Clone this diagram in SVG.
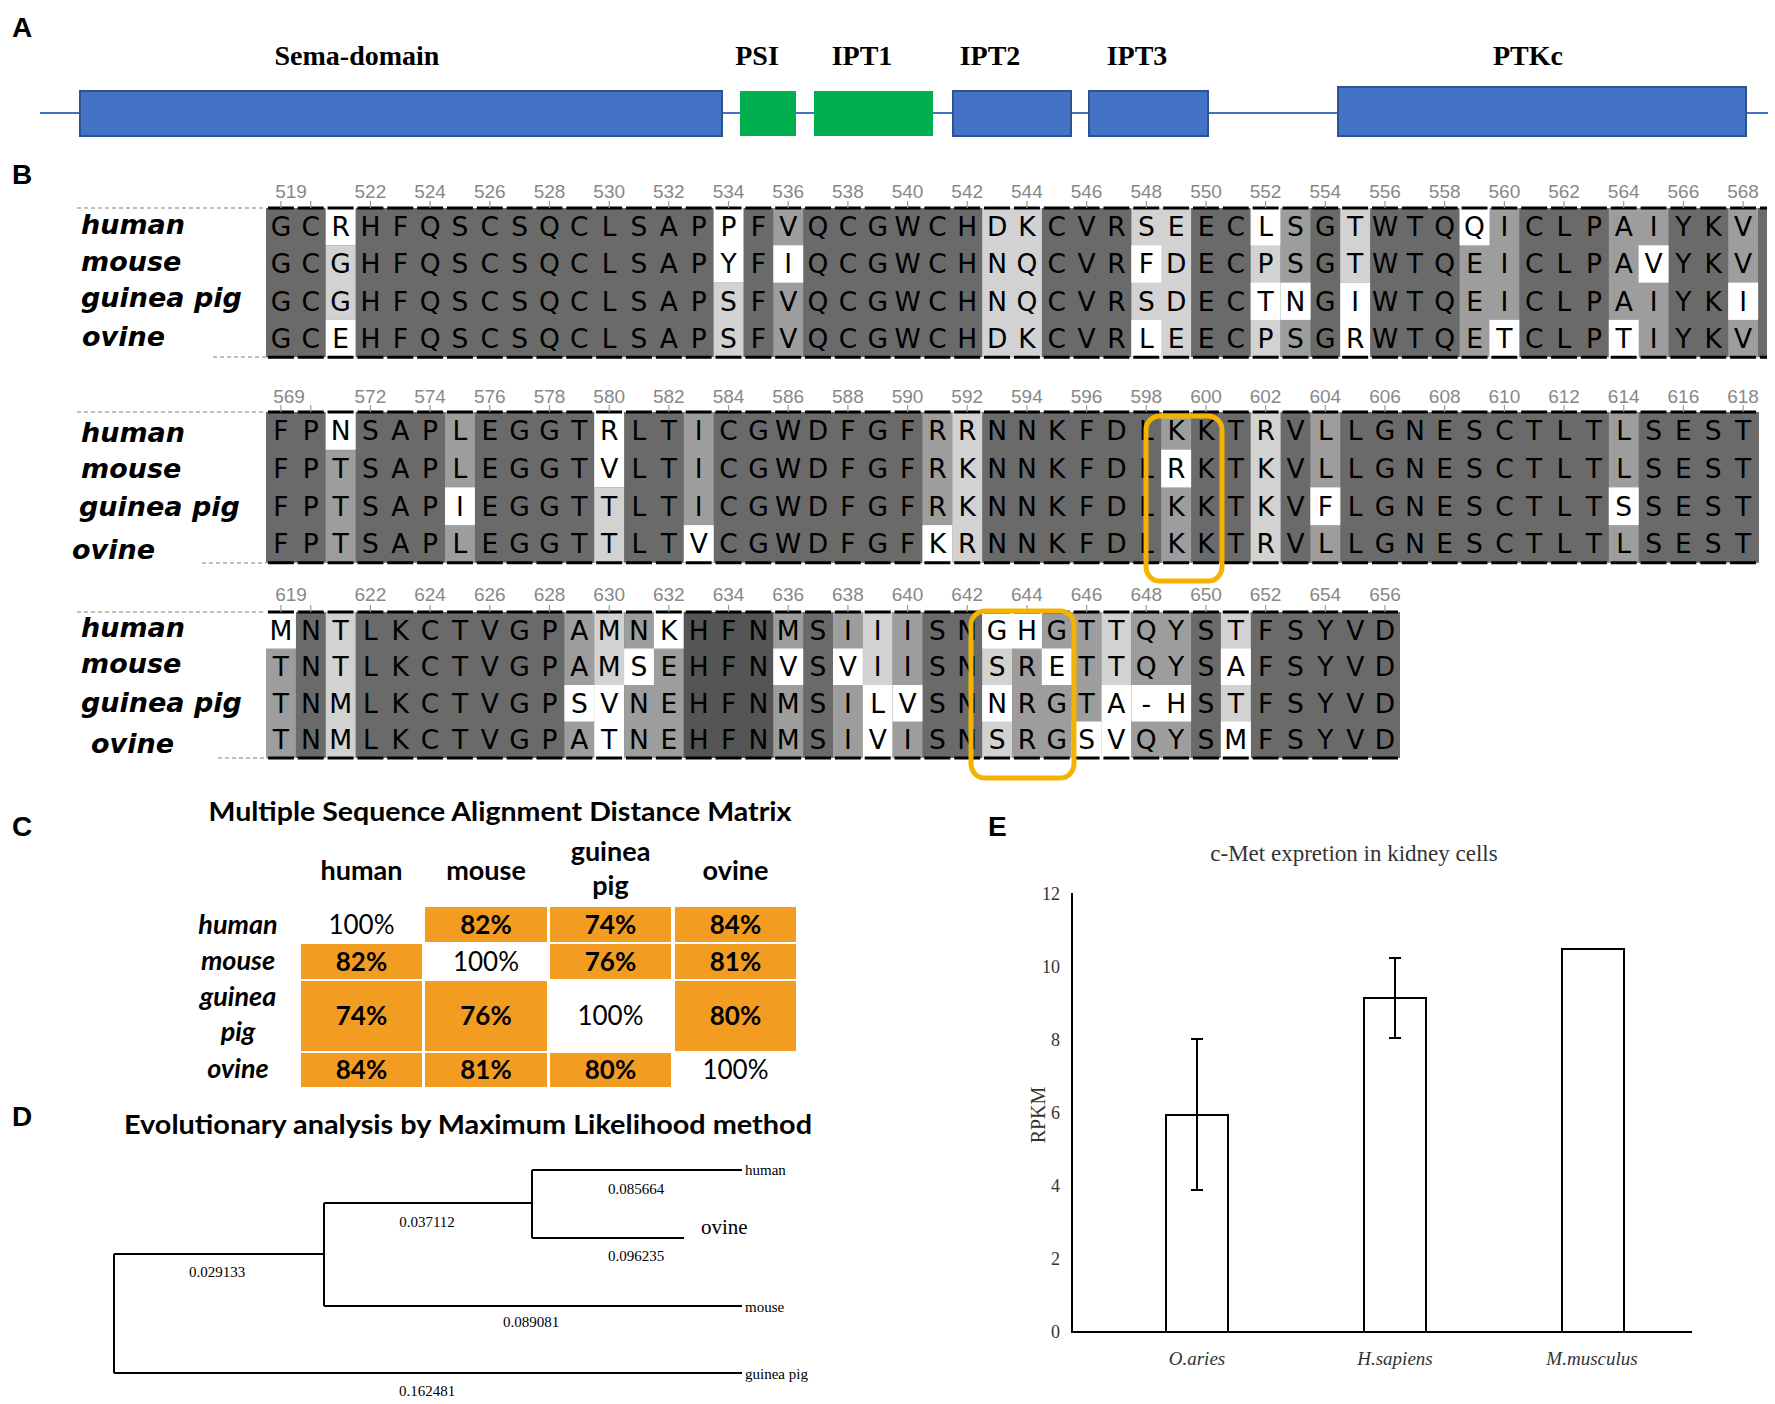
<svg xmlns="http://www.w3.org/2000/svg" width="1775" height="1404" viewBox="0 0 1775 1404">
<style>
.pl{font-family:"Liberation Sans",Arial,sans-serif;font-size:28px;font-weight:bold;fill:#000}
.dom{font-family:"Liberation Serif","Times New Roman",serif;font-size:28px;font-weight:bold;text-anchor:middle;fill:#000}
.blue{fill:#4472C4;stroke:#2F528F;stroke-width:2}
.green{fill:#00B050}
.dk{fill:#6a6a6a}.md{fill:#9d9d9d}.lt{fill:#d2d2d2}.wh{fill:#fff}
.aa{font-family:"DejaVu Sans",Verdana,sans-serif;font-size:26.5px;text-anchor:middle;fill:#000}
.num{font-family:"Liberation Sans",Arial,sans-serif;font-size:19px;fill:#888;text-anchor:middle}
.sp{font-family:"DejaVu Sans",Verdana,sans-serif;font-size:27px;font-weight:bold;font-style:italic;fill:#000}
.gd{stroke:#aaa;stroke-width:1.5;stroke-dasharray:4 3;fill:none}
.bd{stroke:#000;stroke-width:3;stroke-dasharray:26 3.84;fill:none}
.tk{stroke:#999;stroke-width:1.2;fill:none}
.box{fill:none;stroke:#F5B301;stroke-width:5}
.ttl{font-family:Lato,"Liberation Sans",sans-serif;font-size:26px;font-weight:bold;text-anchor:middle;fill:#000}
.hd{font-family:Lato,"Liberation Sans",sans-serif;font-size:27px;font-weight:bold;text-anchor:middle;fill:#000}
.rl{font-family:Lato,"Liberation Sans",sans-serif;font-size:27px;font-weight:bold;font-style:italic;text-anchor:middle;fill:#000}
.cv{font-family:Lato,"Liberation Sans",sans-serif;font-size:26px;font-weight:bold;text-anchor:middle;fill:#000}
.cw{font-family:Lato,"Liberation Sans",sans-serif;font-size:26px;text-anchor:middle;fill:#000}
.or{fill:#F39C22}
.tr{stroke:#000;stroke-width:2;fill:none}
.tl{font-family:"Liberation Serif","Times New Roman",serif;font-size:15px;fill:#000}
.tn{font-family:"Liberation Serif","Times New Roman",serif;font-size:15px;fill:#000;text-anchor:middle}
.et{font-family:"Liberation Serif","Times New Roman",serif;fill:#333}
.ax{stroke:#000;stroke-width:2;fill:none}
.bar{fill:#fff;stroke:#000;stroke-width:2}
</style>

<g id="panelA">
<text class="pl" x="12" y="37">A</text>
<line x1="40" y1="113" x2="1768" y2="113" stroke="#4472C4" stroke-width="2"/>
<g id="sema"><rect class="blue" x="80" y="91" width="642" height="45"/><text class="dom" x="357" y="65">Sema-domain</text></g>
<g id="psi"><rect class="green" x="740" y="91" width="56" height="45"/><text class="dom" x="757" y="65">PSI</text></g>
<g id="ipt1"><rect class="green" x="814" y="91" width="119" height="45"/><text class="dom" x="862" y="65">IPT1</text></g>
<g id="ipt2"><rect class="blue" x="953" y="91" width="118" height="45"/><text class="dom" x="990" y="65">IPT2</text></g>
<g id="ipt3"><rect class="blue" x="1089" y="91" width="119" height="45"/><text class="dom" x="1137" y="65">IPT3</text></g>
<g id="ptkc"><rect class="blue" x="1338" y="87" width="408" height="49"/><text class="dom" x="1528" y="65">PTKc</text></g>
</g>

<g id="panelB">
<text class="pl" x="12" y="184">B</text>

<g id="block1">
<path class="gd" d="M77 208H266M213 357H266"/>
<rect class="dk" x="266" y="208" width="1501" height="149.2"/>
<rect class="wh" x="325.7" y="208" width="29.9" height="37.3"/><rect class="lt" x="325.7" y="245.3" width="29.9" height="74.6"/><rect class="wh" x="325.7" y="319.9" width="29.9" height="37.3"/>
<rect class="wh" x="713.6" y="208" width="29.9" height="74.6"/><rect class="lt" x="713.6" y="282.6" width="29.9" height="74.6"/>
<rect class="md" x="773.3" y="208" width="29.9" height="149.2"/><rect class="wh" x="773.3" y="245.3" width="29.9" height="37.3"/>
<rect class="lt" x="982.2" y="208" width="59.7" height="149.2"/>
<rect class="lt" x="1131.4" y="208" width="59.7" height="149.2"/><rect class="wh" x="1131.4" y="245.3" width="29.9" height="37.3"/><rect class="wh" x="1131.4" y="319.9" width="29.9" height="37.3"/>
<rect class="lt" x="1250.7" y="208" width="29.9" height="149.2"/><rect class="wh" x="1250.7" y="208" width="29.9" height="37.3"/><rect class="wh" x="1250.7" y="282.6" width="29.9" height="37.3"/>
<rect class="md" x="1280.6" y="208" width="29.9" height="149.2"/><rect class="wh" x="1280.6" y="282.6" width="29.9" height="37.3"/>
<rect class="lt" x="1340.2" y="208" width="29.9" height="74.6"/><rect class="wh" x="1340.2" y="282.6" width="29.9" height="74.6"/>
<rect class="md" x="1459.6" y="208" width="59.7" height="149.2"/><rect class="wh" x="1459.6" y="208" width="29.9" height="37.3"/><rect class="wh" x="1489.4" y="319.9" width="29.9" height="37.3"/>
<rect class="md" x="1608.8" y="208" width="59.7" height="149.2"/><rect class="wh" x="1608.8" y="319.9" width="29.9" height="37.3"/><rect class="wh" x="1638.6" y="245.3" width="29.9" height="37.3"/>
<rect class="md" x="1728.2" y="208" width="29.9" height="149.2"/><rect class="wh" x="1728.2" y="282.6" width="29.9" height="37.3"/>
<path class="bd" d="M267.9 208H1767M267.9 357.2H1767"/>
<path class="tk" d="M280.9 201v7M310.8 201v7M370.4 201v7M430.1 201v7M489.8 201v7M549.5 201v7M609.2 201v7M668.8 201v7M728.5 201v7M788.2 201v7M847.9 201v7M907.6 201v7M967.2 201v7M1026.9 201v7M1086.6 201v7M1146.3 201v7M1206 201v7M1265.6 201v7M1325.3 201v7M1385 201v7M1444.7 201v7M1504.4 201v7M1564 201v7M1623.7 201v7M1683.4 201v7M1743.1 201v7"/>
<text class="num" y="198"><tspan x="291">519</tspan><tspan x="370.4">522</tspan><tspan x="430.1">524</tspan><tspan x="489.8">526</tspan><tspan x="549.5">528</tspan><tspan x="609.2">530</tspan><tspan x="668.8">532</tspan><tspan x="728.5">534</tspan><tspan x="788.2">536</tspan><tspan x="847.9">538</tspan><tspan x="907.6">540</tspan><tspan x="967.2">542</tspan><tspan x="1026.9">544</tspan><tspan x="1086.6">546</tspan><tspan x="1146.3">548</tspan><tspan x="1206">550</tspan><tspan x="1265.6">552</tspan><tspan x="1325.3">554</tspan><tspan x="1385">556</tspan><tspan x="1444.7">558</tspan><tspan x="1504.4">560</tspan><tspan x="1564">562</tspan><tspan x="1623.7">564</tspan><tspan x="1683.4">566</tspan><tspan x="1743.1">568</tspan></text>
<text class="sp" x="81" y="234">human</text>
<text class="sp" x="81" y="271">mouse</text>
<text class="sp" x="81" y="307">guinea pig</text>
<text class="sp" x="82" y="346">ovine</text>
<text class="aa" y="236" x="280.9 310.8 340.6 370.4 400.3 430.1 460 489.8 519.6 549.5 579.3 609.2 639 668.8 698.7 728.5 758.4 788.2 818 847.9 877.7 907.6 937.4 967.2 997.1 1026.9 1056.8 1086.6 1116.4 1146.3 1176.1 1206 1235.8 1265.6 1295.5 1325.3 1355.2 1385 1414.8 1444.7 1474.5 1504.4 1534.2 1564 1593.9 1623.7 1653.6 1683.4 1713.2 1743.1">GCRHFQSCSQCLSAPPFVQCGWCHDKCVRSEECLSGTWTQQICLPAIYKV</text>
<text class="aa" y="273.3" x="280.9 310.8 340.6 370.4 400.3 430.1 460 489.8 519.6 549.5 579.3 609.2 639 668.8 698.7 728.5 758.4 788.2 818 847.9 877.7 907.6 937.4 967.2 997.1 1026.9 1056.8 1086.6 1116.4 1146.3 1176.1 1206 1235.8 1265.6 1295.5 1325.3 1355.2 1385 1414.8 1444.7 1474.5 1504.4 1534.2 1564 1593.9 1623.7 1653.6 1683.4 1713.2 1743.1">GCGHFQSCSQCLSAPYFIQCGWCHNQCVRFDECPSGTWTQEICLPAVYKV</text>
<text class="aa" y="310.6" x="280.9 310.8 340.6 370.4 400.3 430.1 460 489.8 519.6 549.5 579.3 609.2 639 668.8 698.7 728.5 758.4 788.2 818 847.9 877.7 907.6 937.4 967.2 997.1 1026.9 1056.8 1086.6 1116.4 1146.3 1176.1 1206 1235.8 1265.6 1295.5 1325.3 1355.2 1385 1414.8 1444.7 1474.5 1504.4 1534.2 1564 1593.9 1623.7 1653.6 1683.4 1713.2 1743.1">GCGHFQSCSQCLSAPSFVQCGWCHNQCVRSDECTNGIWTQEICLPAIYKI</text>
<text class="aa" y="347.9" x="280.9 310.8 340.6 370.4 400.3 430.1 460 489.8 519.6 549.5 579.3 609.2 639 668.8 698.7 728.5 758.4 788.2 818 847.9 877.7 907.6 937.4 967.2 997.1 1026.9 1056.8 1086.6 1116.4 1146.3 1176.1 1206 1235.8 1265.6 1295.5 1325.3 1355.2 1385 1414.8 1444.7 1474.5 1504.4 1534.2 1564 1593.9 1623.7 1653.6 1683.4 1713.2 1743.1">GCEHFQSCSQCLSAPSFVQCGWCHDKCVRLEECPSGRWTQETCLPTIYKV</text>
</g>

<g id="block2">
<path class="gd" d="M77 412H266M202 563H266"/>
<rect class="dk" x="266" y="412" width="1493" height="150.8"/>
<rect class="md" x="325.7" y="412" width="29.9" height="150.8"/><rect class="wh" x="325.7" y="412" width="29.9" height="37.7"/>
<rect class="md" x="445" y="412" width="29.9" height="150.8"/><rect class="wh" x="445" y="487.4" width="29.9" height="37.7"/>
<rect class="wh" x="594.2" y="412" width="29.9" height="75.4"/><rect class="lt" x="594.2" y="487.4" width="29.9" height="75.4"/>
<rect class="md" x="683.8" y="412" width="29.9" height="150.8"/><rect class="wh" x="683.8" y="525.1" width="29.9" height="37.7"/>
<rect class="md" x="922.5" y="412" width="29.9" height="150.8"/><rect class="wh" x="922.5" y="525.1" width="29.9" height="37.7"/>
<rect class="lt" x="952.3" y="412" width="29.9" height="150.8"/>
<rect class="md" x="1161.2" y="412" width="29.9" height="150.8"/><rect class="wh" x="1161.2" y="449.7" width="29.9" height="37.7"/>
<rect class="lt" x="1250.7" y="412" width="29.9" height="150.8"/>
<rect class="md" x="1310.4" y="412" width="29.9" height="150.8"/><rect class="wh" x="1310.4" y="487.4" width="29.9" height="37.7"/>
<rect class="md" x="1608.8" y="412" width="29.9" height="150.8"/><rect class="wh" x="1608.8" y="487.4" width="29.9" height="37.7"/>
<path class="bd" d="M267.9 412H1759M267.9 562.8H1759"/>
<path class="tk" d="M280.9 405v7M310.8 405v7M370.4 405v7M430.1 405v7M489.8 405v7M549.5 405v7M609.2 405v7M668.8 405v7M728.5 405v7M788.2 405v7M847.9 405v7M907.6 405v7M967.2 405v7M1026.9 405v7M1086.6 405v7M1146.3 405v7M1206 405v7M1265.6 405v7M1325.3 405v7M1385 405v7M1444.7 405v7M1504.4 405v7M1564 405v7M1623.7 405v7M1683.4 405v7M1743.1 405v7"/>
<text class="num" y="403"><tspan x="289">569</tspan><tspan x="370.4">572</tspan><tspan x="430.1">574</tspan><tspan x="489.8">576</tspan><tspan x="549.5">578</tspan><tspan x="609.2">580</tspan><tspan x="668.8">582</tspan><tspan x="728.5">584</tspan><tspan x="788.2">586</tspan><tspan x="847.9">588</tspan><tspan x="907.6">590</tspan><tspan x="967.2">592</tspan><tspan x="1026.9">594</tspan><tspan x="1086.6">596</tspan><tspan x="1146.3">598</tspan><tspan x="1206">600</tspan><tspan x="1265.6">602</tspan><tspan x="1325.3">604</tspan><tspan x="1385">606</tspan><tspan x="1444.7">608</tspan><tspan x="1504.4">610</tspan><tspan x="1564">612</tspan><tspan x="1623.7">614</tspan><tspan x="1683.4">616</tspan><tspan x="1743.1">618</tspan></text>
<text class="sp" x="81" y="442">human</text>
<text class="sp" x="81" y="478">mouse</text>
<text class="sp" x="79" y="516">guinea pig</text>
<text class="sp" x="72" y="559">ovine</text>
<text class="aa" y="440.3" x="280.9 310.8 340.6 370.4 400.3 430.1 460 489.8 519.6 549.5 579.3 609.2 639 668.8 698.7 728.5 758.4 788.2 818 847.9 877.7 907.6 937.4 967.2 997.1 1026.9 1056.8 1086.6 1116.4 1146.3 1176.1 1206 1235.8 1265.6 1295.5 1325.3 1355.2 1385 1414.8 1444.7 1474.5 1504.4 1534.2 1564 1593.9 1623.7 1653.6 1683.4 1713.2 1743.1">FPNSAPLEGGTRLTICGWDFGFRRNNKFDLKKTRVLLGNESCTLTLSEST</text>
<text class="aa" y="478" x="280.9 310.8 340.6 370.4 400.3 430.1 460 489.8 519.6 549.5 579.3 609.2 639 668.8 698.7 728.5 758.4 788.2 818 847.9 877.7 907.6 937.4 967.2 997.1 1026.9 1056.8 1086.6 1116.4 1146.3 1176.1 1206 1235.8 1265.6 1295.5 1325.3 1355.2 1385 1414.8 1444.7 1474.5 1504.4 1534.2 1564 1593.9 1623.7 1653.6 1683.4 1713.2 1743.1">FPTSAPLEGGTVLTICGWDFGFRKNNKFDLRKTKVLLGNESCTLTLSEST</text>
<text class="aa" y="515.7" x="280.9 310.8 340.6 370.4 400.3 430.1 460 489.8 519.6 549.5 579.3 609.2 639 668.8 698.7 728.5 758.4 788.2 818 847.9 877.7 907.6 937.4 967.2 997.1 1026.9 1056.8 1086.6 1116.4 1146.3 1176.1 1206 1235.8 1265.6 1295.5 1325.3 1355.2 1385 1414.8 1444.7 1474.5 1504.4 1534.2 1564 1593.9 1623.7 1653.6 1683.4 1713.2 1743.1">FPTSAPIEGGTTLTICGWDFGFRKNNKFDLKKTKVFLGNESCTLTSSEST</text>
<text class="aa" y="553.4" x="280.9 310.8 340.6 370.4 400.3 430.1 460 489.8 519.6 549.5 579.3 609.2 639 668.8 698.7 728.5 758.4 788.2 818 847.9 877.7 907.6 937.4 967.2 997.1 1026.9 1056.8 1086.6 1116.4 1146.3 1176.1 1206 1235.8 1265.6 1295.5 1325.3 1355.2 1385 1414.8 1444.7 1474.5 1504.4 1534.2 1564 1593.9 1623.7 1653.6 1683.4 1713.2 1743.1">FPTSAPLEGGTTLTVCGWDFGFKRNNKFDLKKTRVLLGNESCTLTLSEST</text>
<rect class="box" x="1146" y="416" width="76" height="165" rx="14"/>
</g>

<g id="block3">
<path class="gd" d="M77 612H266M218 758H266"/>
<rect class="dk" x="266" y="612" width="1134" height="146"/>
<rect class="md" x="266" y="612" width="29.9" height="146"/><rect class="wh" x="266" y="612" width="29.9" height="36.5"/>
<rect class="lt" x="325.7" y="612" width="29.9" height="146"/>
<rect class="md" x="564.4" y="612" width="29.9" height="146"/><rect class="wh" x="564.4" y="685" width="29.9" height="36.5"/>
<rect class="lt" x="594.2" y="612" width="29.9" height="73"/><rect class="wh" x="594.2" y="685" width="29.9" height="73"/>
<rect class="md" x="624.1" y="612" width="29.9" height="146"/><rect class="wh" x="624.1" y="648.5" width="29.9" height="36.5"/>
<rect class="md" x="653.9" y="612" width="29.9" height="146"/><rect class="wh" x="653.9" y="612" width="29.9" height="36.5"/>
<rect fill="#555" x="683.8" y="612" width="89.5" height="146"/>
<rect class="md" x="773.3" y="612" width="29.9" height="146"/><rect class="wh" x="773.3" y="648.5" width="29.9" height="36.5"/>
<rect class="md" x="833" y="612" width="29.9" height="146"/><rect class="wh" x="833" y="648.5" width="29.9" height="36.5"/>
<rect class="lt" x="862.8" y="612" width="29.9" height="73"/><rect class="wh" x="862.8" y="685" width="29.9" height="73"/>
<rect class="md" x="892.6" y="612" width="29.9" height="146"/><rect class="wh" x="892.6" y="685" width="29.9" height="36.5"/>
<rect class="lt" x="982.2" y="612" width="29.9" height="146"/><rect class="wh" x="982.2" y="612" width="29.9" height="36.5"/><rect class="wh" x="982.2" y="685" width="29.9" height="36.5"/>
<rect class="md" x="1012" y="612" width="89.5" height="146"/><rect class="wh" x="1012" y="612" width="29.9" height="36.5"/><rect class="wh" x="1041.8" y="648.5" width="29.9" height="36.5"/><rect class="wh" x="1071.7" y="721.5" width="29.9" height="36.5"/>
<rect class="lt" x="1101.5" y="612" width="29.9" height="73"/><rect class="wh" x="1101.5" y="685" width="29.9" height="73"/>
<rect class="md" x="1131.4" y="612" width="59.7" height="146"/><rect class="wh" x="1131.4" y="685" width="59.7" height="36.5"/>
<rect class="lt" x="1220.9" y="612" width="29.9" height="146"/><rect class="wh" x="1220.9" y="648.5" width="29.9" height="36.5"/><rect class="wh" x="1220.9" y="721.5" width="29.9" height="36.5"/>
<path class="bd" d="M267.9 612H1400M267.9 758H1400"/>
<path class="tk" d="M280.9 605v7M310.8 605v7M370.4 605v7M430.1 605v7M489.8 605v7M549.5 605v7M609.2 605v7M668.8 605v7M728.5 605v7M788.2 605v7M847.9 605v7M907.6 605v7M967.2 605v7M1026.9 605v7M1086.6 605v7M1146.3 605v7M1206 605v7M1265.6 605v7M1325.3 605v7M1385 605v7"/>
<text class="num" y="601"><tspan x="291">619</tspan><tspan x="370.4">622</tspan><tspan x="430.1">624</tspan><tspan x="489.8">626</tspan><tspan x="549.5">628</tspan><tspan x="609.2">630</tspan><tspan x="668.8">632</tspan><tspan x="728.5">634</tspan><tspan x="788.2">636</tspan><tspan x="847.9">638</tspan><tspan x="907.6">640</tspan><tspan x="967.2">642</tspan><tspan x="1026.9">644</tspan><tspan x="1086.6">646</tspan><tspan x="1146.3">648</tspan><tspan x="1206">650</tspan><tspan x="1265.6">652</tspan><tspan x="1325.3">654</tspan><tspan x="1385">656</tspan></text>
<text class="sp" x="81" y="637">human</text>
<text class="sp" x="81" y="673">mouse</text>
<text class="sp" x="81" y="712">guinea pig</text>
<text class="sp" x="91" y="753">ovine</text>
<text class="aa" y="639.7" x="280.9 310.8 340.6 370.4 400.3 430.1 460 489.8 519.6 549.5 579.3 609.2 639 668.8 698.7 728.5 758.4 788.2 818 847.9 877.7 907.6 937.4 967.2 997.1 1026.9 1056.8 1086.6 1116.4 1146.3 1176.1 1206 1235.8 1265.6 1295.5 1325.3 1355.2 1385">MNTLKCTVGPAMNKHFNMSIIISNGHGTTQYSTFSYVD</text>
<text class="aa" y="676.2" x="280.9 310.8 340.6 370.4 400.3 430.1 460 489.8 519.6 549.5 579.3 609.2 639 668.8 698.7 728.5 758.4 788.2 818 847.9 877.7 907.6 937.4 967.2 997.1 1026.9 1056.8 1086.6 1116.4 1146.3 1176.1 1206 1235.8 1265.6 1295.5 1325.3 1355.2 1385">TNTLKCTVGPAMSEHFNVSVIISNSRETTQYSAFSYVD</text>
<text class="aa" y="712.7" x="280.9 310.8 340.6 370.4 400.3 430.1 460 489.8 519.6 549.5 579.3 609.2 639 668.8 698.7 728.5 758.4 788.2 818 847.9 877.7 907.6 937.4 967.2 997.1 1026.9 1056.8 1086.6 1116.4 1146.3 1176.1 1206 1235.8 1265.6 1295.5 1325.3 1355.2 1385">TNMLKCTVGPSVNEHFNMSILVSNNRGTA-HSTFSYVD</text>
<text class="aa" y="749.2" x="280.9 310.8 340.6 370.4 400.3 430.1 460 489.8 519.6 549.5 579.3 609.2 639 668.8 698.7 728.5 758.4 788.2 818 847.9 877.7 907.6 937.4 967.2 997.1 1026.9 1056.8 1086.6 1116.4 1146.3 1176.1 1206 1235.8 1265.6 1295.5 1325.3 1355.2 1385">TNMLKCTVGPATNEHFNMSIVISNSRGSVQYSMFSYVD</text>
<rect class="box" x="971" y="611" width="103" height="167" rx="14"/>
</g>
</g>

<g id="panelC">
<text class="pl" x="12" y="836">C</text>
<text class="ttl" x="500" y="821" textLength="583" lengthAdjust="spacingAndGlyphs">Multiple Sequence Alignment Distance Matrix</text>
<text class="hd" x="361.5" y="880">human</text>
<text class="hd" x="486" y="880">mouse</text>
<text class="hd" x="610.5" y="861">guinea</text>
<text class="hd" x="610.5" y="895">pig</text>
<text class="hd" x="735.5" y="880">ovine</text>
<text class="rl" x="238" y="934">human</text>
<text class="rl" x="238" y="970">mouse</text>
<text class="rl" x="238" y="1006">guinea</text>
<text class="rl" x="238" y="1041">pig</text>
<text class="rl" x="238" y="1078">ovine</text>
<g id="cells">
<rect class="or" x="425" y="907" width="122" height="35"/><rect class="or" x="550" y="907" width="121" height="35"/><rect class="or" x="675" y="907" width="121" height="35"/>
<rect class="or" x="301" y="944" width="121" height="35"/><rect class="or" x="550" y="944" width="121" height="35"/><rect class="or" x="675" y="944" width="121" height="35"/>
<rect class="or" x="301" y="981" width="121" height="70"/><rect class="or" x="425" y="981" width="122" height="70"/><rect class="or" x="675" y="981" width="121" height="70"/>
<rect class="or" x="301" y="1053" width="121" height="34"/><rect class="or" x="425" y="1053" width="122" height="34"/><rect class="or" x="550" y="1053" width="121" height="34"/>
</g>
<text class="cw" x="361.5" y="934">100%</text><text class="cv" x="486" y="934">82%</text><text class="cv" x="610.5" y="934">74%</text><text class="cv" x="735.5" y="934">84%</text>
<text class="cv" x="361.5" y="971">82%</text><text class="cw" x="486" y="971">100%</text><text class="cv" x="610.5" y="971">76%</text><text class="cv" x="735.5" y="971">81%</text>
<text class="cv" x="361.5" y="1025">74%</text><text class="cv" x="486" y="1025">76%</text><text class="cw" x="610.5" y="1025">100%</text><text class="cv" x="735.5" y="1025">80%</text>
<text class="cv" x="361.5" y="1079">84%</text><text class="cv" x="486" y="1079">81%</text><text class="cv" x="610.5" y="1079">80%</text><text class="cw" x="735.5" y="1079">100%</text>
</g>

<g id="panelD">
<text class="pl" x="12" y="1126">D</text>
<text class="ttl" x="468" y="1134" textLength="688" lengthAdjust="spacingAndGlyphs">Evolutionary analysis by Maximum Likelihood method</text>
<path class="tr" d="M114 1254V1373M114 1254H324M324 1203V1306M324 1203H532M532 1170V1238M532 1170H742M532 1238H684M324 1306H742M114 1373H742"/>
<text class="tl" x="745" y="1175">human</text>
<text class="tl" x="701" y="1234" style="font-size:21px">ovine</text>
<text class="tl" x="745" y="1312">mouse</text>
<text class="tl" x="745" y="1379">guinea pig</text>
<text class="tn" x="636" y="1194">0.085664</text>
<text class="tn" x="636" y="1261">0.096235</text>
<text class="tn" x="427" y="1227">0.037112</text>
<text class="tn" x="217" y="1277">0.029133</text>
<text class="tn" x="531" y="1327">0.089081</text>
<text class="tn" x="427" y="1396">0.162481</text>
</g>

<g id="panelE">
<text class="pl" x="988" y="836">E</text>
<text class="et" x="1354" y="861" text-anchor="middle" font-size="23">c-Met expretion in kidney cells</text>
<path class="ax" d="M1072 893V1332H1692"/>
<g class="et" font-size="18" text-anchor="end">
<text x="1060" y="1338">0</text><text x="1060" y="1265">2</text><text x="1060" y="1192">4</text><text x="1060" y="1119">6</text><text x="1060" y="1046">8</text><text x="1060" y="973">10</text><text x="1060" y="900">12</text>
</g>
<text class="et" font-size="20" transform="translate(1045 1115) rotate(-90)" text-anchor="middle">RPKM</text>
<g id="bar-oaries"><rect class="bar" x="1166" y="1115" width="62" height="217"/><path class="ax" d="M1197 1039V1190M1191 1039H1203M1191 1190H1203"/></g>
<g id="bar-hsapiens"><rect class="bar" x="1364" y="998" width="62" height="334"/><path class="ax" d="M1395 958V1038M1389 958H1401M1389 1038H1401"/></g>
<g id="bar-mmusculus"><rect class="bar" x="1562" y="949" width="62" height="383"/></g>
<g class="et" font-size="19" font-style="italic" text-anchor="middle">
<text x="1197" y="1365">O.aries</text><text x="1395" y="1365">H.sapiens</text><text x="1592" y="1365">M.musculus</text>
</g>
</g>
</svg>
